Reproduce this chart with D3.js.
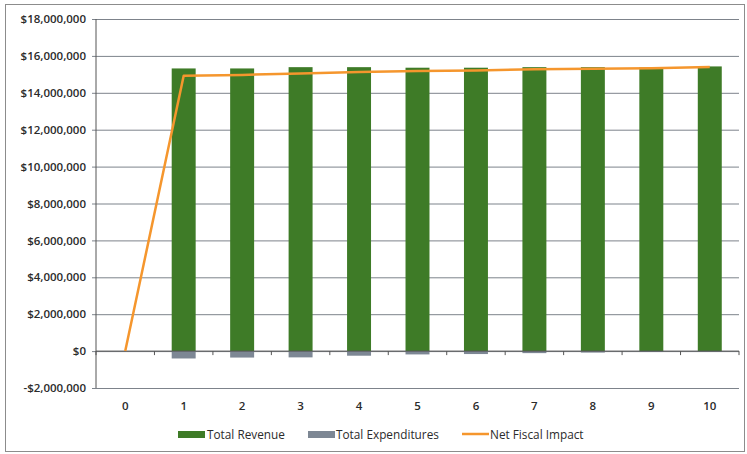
<!DOCTYPE html>
<html><head><meta charset="utf-8">
<script src="https://cdn.jsdelivr.net/npm/d3@7"></script>
<style>body{margin:0;background:#fff}svg{display:block}text{font-family:"Open Sans","Noto Sans",sans-serif}</style>
</head><body>
<script>
const categories = ["0","1","2","3","4","5","6","7","8","9","10"];
const totalRevenue = [0, 15320000, 15320000, 15390000, 15390000, 15360000, 15360000, 15390000, 15390000, 15370000, 15430000];
const totalExpenditures = [0, -400000, -350000, -340000, -250000, -180000, -160000, -110000, -80000, -50000, -30000];
const netFiscalImpact = [0, 14920000, 14970000, 15050000, 15130000, 15180000, 15210000, 15280000, 15310000, 15330000, 15400000];
const yTicks = [-2000000, 0, 2000000, 4000000, 6000000, 8000000, 10000000, 12000000, 14000000, 16000000, 18000000];
const seriesNames = ["Total Revenue", "Total Expenditures", "Net Fiscal Impact"];

const W = 747, H = 454;
const m = {left: 96, right: 739, top: 19, bottom: 388};
const svg = d3.select("body").append("svg").attr("width", W).attr("height", H);

// frame
svg.append("rect").attr("x", 5.5).attr("y", 4.5).attr("width", 739).attr("height", 447)
  .attr("fill", "none").attr("stroke", "#8c8c8c").attr("stroke-width", 1);

const x = d3.scaleBand().domain(categories).range([m.left, m.right]).paddingInner(0.59).paddingOuter(0.295);
const xc = d3.scalePoint().domain(categories).range([m.left, m.right]).padding(0.5);
const y = d3.scaleLinear().domain([-2000000, 18000000]).range([m.bottom, m.top]);

const fmt = v => (v < 0 ? "-$" : "$") + d3.format(",")(Math.abs(v));

// gridlines + y axis
const yAxis = d3.axisLeft(y).tickValues(yTicks).tickFormat(fmt).tickSize(-(m.right - m.left)).tickPadding(10);
const gy = svg.append("g").attr("transform", `translate(${m.left},0)`).call(yAxis);
gy.select(".domain").remove();
gy.selectAll(".tick line").attr("stroke", "#7d838b").attr("stroke-width", 1).attr("x1", -4);
gy.selectAll(".tick text").attr("fill", "#2b2b2b").style("font-size", "11.5px").style("font-weight", "600");
svg.append("line").attr("x1", m.left).attr("x2", m.left).attr("y1", m.top).attr("y2", m.bottom)
  .attr("stroke", "#555").attr("stroke-width", 1);

// bars
svg.append("g").selectAll("rect").data(categories).join("rect")
  .attr("x", d => x(d)).attr("width", x.bandwidth())
  .attr("y", (d, i) => y(totalRevenue[i])).attr("height", (d, i) => y(0) - y(totalRevenue[i]))
  .attr("fill", "#3e7b27");
svg.append("g").selectAll("rect").data(categories).join("rect")
  .attr("x", d => x(d)).attr("width", x.bandwidth())
  .attr("y", y(0)).attr("height", (d, i) => y(totalExpenditures[i]) - y(0))
  .attr("fill", "#7d8794");

// x axis at zero
const step = (m.right - m.left) / categories.length;
const gx = svg.append("g").attr("transform", `translate(0,${y(0)})`);
gx.append("line").attr("x1", m.left).attr("x2", m.right).attr("stroke", "#555");
gx.selectAll("line.tk").data(d3.range(categories.length + 1)).join("line").attr("class", "tk")
  .attr("x1", i => m.left + i * step).attr("x2", i => m.left + i * step).attr("y1", 0).attr("y2", 4)
  .attr("stroke", "#555");

// x labels
svg.append("g").selectAll("text").data(categories).join("text")
  .attr("x", d => xc(d)).attr("y", 410).attr("text-anchor", "middle")
  .attr("fill", "#2b2b2b").style("font-size", "11.5px").style("font-weight", "600").text(d => d);

// line
const line = d3.line().x((d, i) => xc(categories[i])).y(d => y(d));
svg.append("path").datum(netFiscalImpact).attr("d", line).attr("fill", "none")
  .attr("stroke", "#f5962d").attr("stroke-width", 2.5).attr("stroke-linejoin", "round");

// legend
const lg = svg.append("g");
const items = [
  {name: seriesNames[0], type: "rect", color: "#3e7b27", x: 178, tx: 207},
  {name: seriesNames[1], type: "rect", color: "#7d8794", x: 308, tx: 336},
  {name: seriesNames[2], type: "line", color: "#f5962d", x: 462, tx: 490}
];
items.forEach(it => {
  if (it.type === "rect") lg.append("rect").attr("x", it.x).attr("y", 431).attr("width", 27).attr("height", 7).attr("fill", it.color);
  else lg.append("line").attr("x1", it.x).attr("x2", it.x + 27).attr("y1", 434).attr("y2", 434).attr("stroke", it.color).attr("stroke-width", 2.5);
  lg.append("text").attr("x", it.tx).attr("y", 438.5).attr("fill", "#2b2b2b").style("font-size", "11.8px").text(it.name);
});
</script>
</body></html>
